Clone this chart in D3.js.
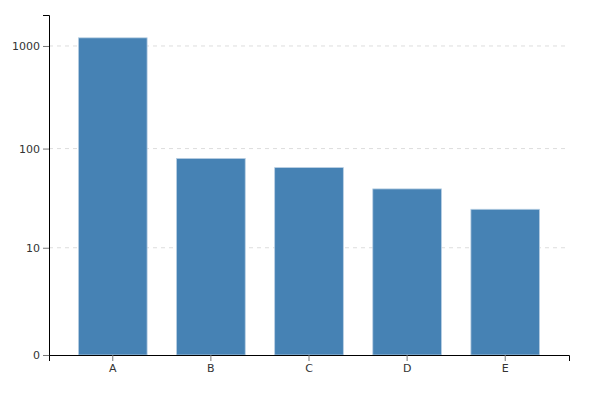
<!DOCTYPE html>
<html>
<head>
<meta charset="utf-8">
<script src="https://cdn.jsdelivr.net/npm/d3@7"></script>
<style>
  body { margin: 0; background: #fff; }
  text { font-family: "DejaVu Sans", sans-serif; }
</style>
</head>
<body>
<svg id="chart"></svg>
<script>
// data
var categories = ["A", "B", "C", "D", "E"];
var values = [1200, 80, 65, 40, 25];
var yTicks = [0, 10, 100, 1000];

var margin = {top: 15, right: 20, bottom: 41, left: 49},
    width = 589 - margin.left - margin.right,
    height = 396 - margin.top - margin.bottom;

var svg = d3.select("#chart")
    .attr("width", 589)
    .attr("height", 396)
    .append("g")
    .attr("transform", "translate(" + margin.left + "," + margin.top + ")");

var x = d3.scaleBand()
    .domain(categories)
    .range([0, width])
    .padding(0.3);

var y = d3.scaleSymlog()
    .constant(1)
    .domain([0, 2000])
    .range([height, 0]);

// grid
svg.append("g")
    .selectAll("line")
    .data(yTicks.filter(function (d) { return d > 0; }))
    .enter().append("line")
    .attr("x1", 0)
    .attr("x2", width - 1)
    .attr("y1", function (d) { return y(d); })
    .attr("y2", function (d) { return y(d); })
    .attr("stroke", "#ddd")
    .attr("stroke-dasharray", "4,4");

// bars
svg.selectAll(".bar")
    .data(values)
    .enter().append("rect")
    .attr("class", "bar")
    .attr("x", function (d, i) { return x(categories[i]); })
    .attr("width", x.bandwidth())
    .attr("y", function (d) { return y(d); })
    .attr("height", function (d) { return height - y(d); })
    .attr("fill", "steelblue")
    .attr("stroke", "#b8cfe3")
    .attr("stroke-width", 0.8);

// axes
var xAxis = svg.append("g")
    .attr("transform", "translate(0," + height + ")")
    .call(d3.axisBottom(x).tickSize(6).tickSizeOuter(6));
xAxis.selectAll(".tick line").attr("stroke", "#777");
xAxis.selectAll("text").attr("fill", "#333").style("font-size", "11px");

var yAxis = svg.append("g")
    .call(d3.axisLeft(y).tickValues(yTicks).tickFormat(d3.format("d")));
yAxis.selectAll(".tick line").attr("stroke", "#777");
yAxis.selectAll("text").attr("fill", "#333").style("font-size", "11px");
</script>
</body>
</html>
